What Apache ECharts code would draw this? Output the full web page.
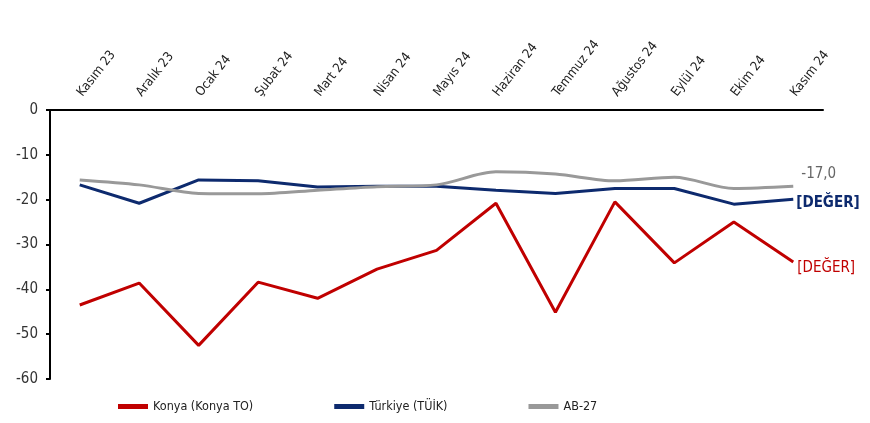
<!DOCTYPE html>
<html><head><meta charset="utf-8">
<script src="https://cdn.jsdelivr.net/npm/echarts@6/dist/echarts.min.js"></script>
<style>html,body{margin:0;padding:0;background:#fff}#c{width:870px;height:423px}</style>
</head><body><div id="c"></div>
<script>
const categories = ['Kasım 23','Aralık 23','Ocak 24','Şubat 24','Mart 24','Nisan 24','Mayıs 24','Haziran 24','Temmuz 24','Ağustos 24','Eylül 24','Ekim 24','Kasım 24'];
const konya = [-43.5,-38.6,-52.5,-38.4,-42.0,-35.5,-31.3,-20.8,-45.1,-20.5,-34.1,-25.0,-33.9];
const turkiye = [-16.7,-20.8,-15.6,-15.8,-17.2,-17.0,-17.0,-17.9,-18.6,-17.5,-17.5,-21.0,-19.9];
const ab27 = [-15.6,-16.7,-18.6,-18.7,-17.9,-17.1,-16.7,-13.8,-14.3,-15.8,-15.0,-17.5,-17.0];
const yTicks = [0,-10,-20,-30,-40,-50,-60];
const font = "'DejaVu Sans Condensed','Liberation Sans Narrow','Liberation Sans',sans-serif";
const chart = echarts.init(document.getElementById('c'));
chart.setOption({
  animation:false,
  textStyle:{fontFamily:font},
  grid:{left:50,right:47,top:110,bottom:44},
  legend:{bottom:5,left:113,itemWidth:30,itemHeight:5,itemGap:81,icon:'rect',
    textStyle:{fontFamily:font,fontSize:12.5,color:'#222'},
    data:['Konya (Konya TO)','Türkiye (TÜİK)','AB-27']},
  xAxis:{type:'category',position:'top',data:categories,boundaryGap:true,
    axisLine:{lineStyle:{color:'#000',width:2}},
    axisTick:{inside:true,length:5,lineStyle:{color:'#000',width:2}},
    axisLabel:{rotate:52,fontSize:13,color:'#222',fontFamily:font,margin:15}},
  yAxis:{type:'value',min:-60,max:0,interval:10,
    axisLine:{show:true,lineStyle:{color:'#000',width:2}},
    axisTick:{show:true,length:4,lineStyle:{color:'#000',width:2}},
    splitLine:{show:false},
    axisLabel:{fontSize:15,color:'#333',fontFamily:font,margin:12,
      formatter:v=>yTicks.includes(v)?String(v):''}},
  series:[
    {name:'Konya (Konya TO)',type:'line',data:konya,symbol:'none',
      lineStyle:{color:'#c00000',width:3},itemStyle:{color:'#c00000'},
      endLabel:{show:true,formatter:'[DEĞER]',color:'#c00000',fontSize:15,fontFamily:font,offset:[-4,6]}},
    {name:'Türkiye (TÜİK)',type:'line',data:turkiye,symbol:'none',
      lineStyle:{color:'#0d2a6e',width:3},itemStyle:{color:'#0d2a6e'},
      endLabel:{show:true,formatter:'[DEĞER]',color:'#0d2a6e',fontSize:15,fontWeight:'bold',fontFamily:font,offset:[-5,4]}},
    {name:'AB-27',type:'line',data:ab27,symbol:'none',smooth:0.3,
      lineStyle:{color:'#999',width:3},itemStyle:{color:'#999'},
      endLabel:{show:true,formatter:p=>p.value.toFixed(1).replace('.',','),color:'#666',fontSize:15,fontFamily:font,offset:[0,-12]}}
  ]
});
</script></body></html>
